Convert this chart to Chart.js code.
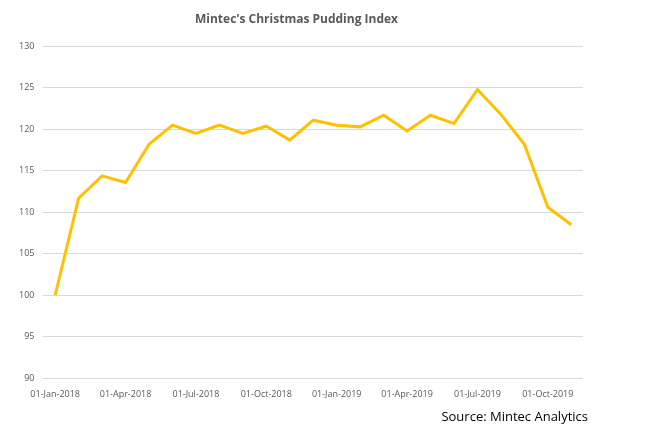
<!DOCTYPE html>
<html>
<head>
<meta charset="utf-8">
<script src="https://cdn.jsdelivr.net/npm/chart.js@4.4.0/dist/chart.umd.min.js"></script>
<style>
  html, body { margin: 0; padding: 0; background: #fff; }
  #wrap { width: 648px; height: 441px; position: relative; }
</style>
</head>
<body>
<div id="wrap"><canvas id="puddingChart" width="648" height="441"></canvas></div>
<script>
// monthly index, Jan-2018 .. Nov-2019
var months = ["01-Jan-2018","01-Feb-2018","01-Mar-2018","01-Apr-2018","01-May-2018","01-Jun-2018",
              "01-Jul-2018","01-Aug-2018","01-Sep-2018","01-Oct-2018","01-Nov-2018","01-Dec-2018",
              "01-Jan-2019","01-Feb-2019","01-Mar-2019","01-Apr-2019","01-May-2019","01-Jun-2019",
              "01-Jul-2019","01-Aug-2019","01-Sep-2019","01-Oct-2019","01-Nov-2019"];
var indexValues = [100, 111.7, 114.4, 113.6, 118.2, 120.5, 119.5, 120.5, 119.5, 120.4, 118.7, 121.1,
                   120.5, 120.3, 121.7, 119.8, 121.7, 120.7, 124.8, 121.8, 118.2, 110.6, 108.5];
var yTicks = [90, 95, 100, 105, 110, 115, 120, 125, 130];

var titleText = "Mintec's Christmas Pudding Index";
var sourceText = "Source: Mintec Analytics";

// draws the source note under the axis
var sourceNote = {
  id: "sourceNote",
  afterDraw: function(chart){
    var ctx = chart.ctx;
    ctx.save();
    ctx.font = "13px 'Open Sans'";
    ctx.fillStyle = "#000000";
    ctx.textAlign = "right";
    ctx.textBaseline = "middle";
    ctx.fillText(sourceText, 588, 417);
    ctx.restore();
  }
};

var ctx = document.getElementById("puddingChart").getContext("2d");
var chart = new Chart(ctx, {
  type: "line",
  data: {
    labels: months,
    datasets: [{
      label: "Index",
      data: indexValues,
      borderColor: "#FFC000",
      backgroundColor: "#FFC000",
      borderWidth: 3,
      pointRadius: 0,
      tension: 0,
      fill: false
    }]
  },
  options: {
    responsive: false,
    animation: false,
    layout: { padding: { left: 10, right: 65, top: 0, bottom: 30 } },
    plugins: {
      legend: { display: false },
      tooltip: { enabled: false },
      title: {
        display: true,
        text: titleText,
        color: "#595959",
        font: { family: "'Open Sans'", size: 12, weight: "bold" },
        padding: { top: 12, bottom: 20 }
      }
    },
    scales: {
      x: {
        offset: true,
        grid: { display: false, drawTicks: false },
        border: { display: false },
        ticks: {
          autoSkip: false,
          maxRotation: 0,
          color: "#595959",
          padding: 11,
          font: { family: "'Open Sans'", size: 9 },
          callback: function(val, i){ return i % 3 === 0 ? months[i] : ""; }
        }
      },
      y: {
        min: yTicks[0],
        max: yTicks[yTicks.length - 1],
        grid: { color: "#d9d9d9", lineWidth: 1, drawTicks: false },
        border: { display: false },
        afterBuildTicks: function(scale){
          scale.ticks = yTicks.map(function(v){ return { value: v }; });
        },
        ticks: {
          color: "#595959",
          padding: 9,
          font: { family: "'Open Sans'", size: 9 }
        }
      }
    }
  },
  plugins: [sourceNote]
});
</script>
</body>
</html>
